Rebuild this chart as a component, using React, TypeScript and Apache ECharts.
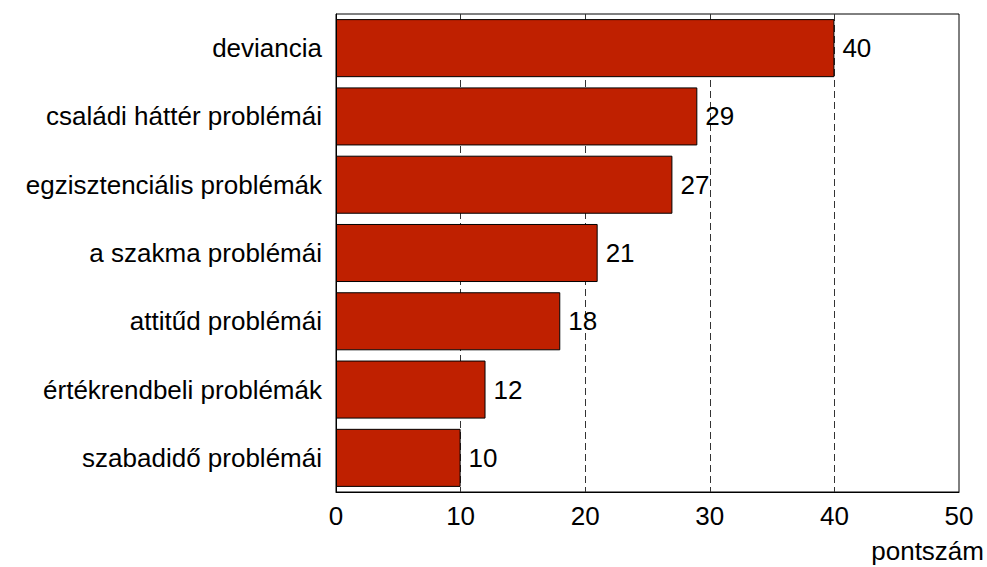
import React, { useEffect, useRef } from "react";
import * as echarts from "echarts";

const categories = [
  "deviancia",
  "családi háttér problémái",
  "egzisztenciális problémák",
  "a szakma problémái",
  "attitűd problémái",
  "értékrendbeli problémák",
  "szabadidő problémái",
];
const values = [40, 29, 27, 21, 18, 12, 10];
const axisName = "pontszám";

export default function App() {
  const ref = useRef<HTMLDivElement>(null);
  useEffect(() => {
    document.body.style.margin = "0";
    const chart = echarts.init(ref.current!, null, { renderer: "svg" });
    const font = "'Liberation Sans', Arial, sans-serif";
    chart.setOption({
      animation: false,
      backgroundColor: "#ffffff",
      textStyle: { fontFamily: font },
      grid: {
        left: 336,
        top: 14,
        width: 623,
        height: 478,
        show: true,
        borderColor: "#000",
        borderWidth: 1,
        backgroundColor: "transparent",
      },
      xAxis: {
        type: "value",
        min: 0,
        max: 50,
        interval: 10,
        axisLine: { show: true, lineStyle: { color: "#000" } },
        axisTick: { show: false },
        axisLabel: { color: "#000", fontSize: 26, margin: 11, fontFamily: font },
        splitLine: {
          show: true,
          showMinLine: false,
          showMaxLine: false,
          lineStyle: { color: "#333", type: [7, 4], width: 1 },
        },
      },
      yAxis: {
        type: "category",
        data: categories,
        inverse: true,
        axisLine: { show: true, lineStyle: { color: "#000" } },
        axisTick: { show: false },
        axisLabel: { color: "#000", fontSize: 26, margin: 14, fontFamily: font },
        splitLine: { show: false },
      },
      graphic: [
        {
          type: "text",
          x: 984,
          y: 551,
          style: {
            text: axisName,
            fontSize: 26,
            fill: "#000",
            fontFamily: font,
            align: "right",
            verticalAlign: "middle",
          },
        },
      ],
      series: [
        {
          type: "bar",
          data: values,
          barCategoryGap: "15%",
          itemStyle: { color: "#BF2000", borderColor: "#000", borderWidth: 1 },
          label: {
            show: true,
            position: "right",
            distance: 8,
            color: "#000",
            fontSize: 26,
            fontFamily: font,
          },
        },
      ],
    });
    return () => chart.dispose();
  }, []);
  return <div ref={ref} style={{ width: 987, height: 567 }} />;
}
